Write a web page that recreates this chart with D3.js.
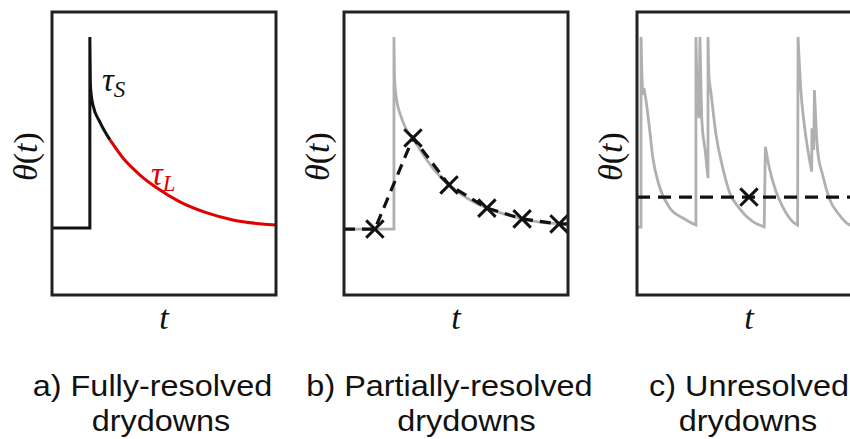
<!DOCTYPE html>
<html>
<head>
<meta charset="utf-8">
<script src="https://cdn.jsdelivr.net/npm/d3@7"></script>
<style>
  body { margin: 0; background: #fff; }
  svg { display: block; }
  .cap { font-family: 'Liberation Sans', Arial, sans-serif; font-size: 30px; fill: #111; }
  .math { font-family: 'Liberation Serif', 'DejaVu Serif', serif; fill: #111; }
</style>
</head>
<body>
<div id="chart"></div>
<script>
// a) fully-resolved drydown (t and theta in 0..100 panel units)
const aStepT = [0, 16.9];
const aStepTheta = [23.7, 23.7];
const aDecayT = [16.9, 17.2, 18.3, 21.4, 25.9, 31.7, 39.3, 46.9, 57.1, 69.2, 80.8, 100];
const aDecayTheta = [91.2, 73.5, 67.1, 61.1, 54.8, 48.4, 42.4, 37.8, 32.9, 29.0, 26.5, 24.7];
const aShortEnd = 4; // last point of the tau_S part

// b) partially-resolved
const bStepT = [0, 22.3];
const bStepTheta = [23.3, 23.3];
const bDecayT = [22.3, 22.6, 23.5, 25.3, 27.8, 30.8, 35, 40, 46.9, 55, 63.8, 72, 79.5, 88, 96, 100];
const bDecayTheta = [91.2, 76, 69, 63.5, 58.5, 55.3, 50, 44.5, 38.9, 34.2, 30.7, 28.5, 26.9, 25.7, 25.1, 24.8];
const bSampleT = [13.8, 30.8, 46.9, 63.8, 79.5, 96.0];
const bSampleTheta = [23.3, 55.5, 38.9, 30.7, 26.9, 25.1];

// c) unresolved, one array per rain event
const cEventT = [
  [0, 1.8],
  [1.8, 2.2, 2.7],
  [3.1, 4.0, 5.4, 7.1, 9.8, 14.3, 20.5, 26.3],
  [26.3, 26.8, 27.7],
  [28.1, 28.6, 29.0, 30.4, 31.7],
  [31.7, 32.1, 33.0, 35.3, 38.3, 41.2, 45.7, 51.7, 56.8],
  [57.3, 59.1, 62.1, 65.0, 69.5, 71.7],
  [71.9, 73.2, 74.7, 76.9, 78.0],
  [78.1, 78.9],
  [79.2, 79.9, 80.7, 82.9, 85.8, 90.3, 95.1, 100]
];
const cEventTheta = [
  [24.0, 24.0],
  [91.2, 77.7, 70.7],
  [73.1, 68.9, 60.1, 48.4, 38.9, 31.1, 27.2, 24.7],
  [91.2, 74.2, 62.5],
  [91.2, 72.4, 61.1, 51.2, 41.3],
  [91.2, 77.7, 71.7, 56.5, 44.9, 36.5, 30.6, 25.9, 24.1],
  [52.4, 44.8, 36.5, 31.2, 25.9, 24.7],
  [91.2, 71.8, 60.1, 48.3, 43.6],
  [58.9, 51.2],
  [72.4, 60.1, 50.6, 42.4, 34.2, 28.3, 24.7, 24.0]
];
const cMeanT = [50];
const cMeanTheta = [34.6];

const captions = [
  ["a) Fully-resolved", "drydowns"],
  ["b) Partially-resolved", "drydowns"],
  ["c) Unresolved", "drydowns"]
];

let panelLeft = [52, 344, 637],
    panelW = 224, plotTop = 12, plotBottom = 295;

let svg = d3.select('#chart').append('svg')
    .attr('width', 850)
    .attr('height', 439);

let line = d3.line()
    .x(d => d[0]).y(d => d[1])
    .curve(d3.curveMonotoneX);

// joins smooth pieces with straight jumps in between
let seriesPath = (x, y, ts, ths) => ts.map((t, i) => {
    let p = line(d3.zip(t, ths[i]).map(d => [x(d[0]), y(d[1])]));
    return i ? 'L' + p.slice(1) : p;
}).join('');

let panels = panelLeft.map(x0 => {
    let x = d3.scaleLinear().domain([0, 100]).range([x0, x0 + panelW]);
    let y = d3.scaleLinear().domain([0, 100]).range([plotBottom, plotTop]);
    return {x0, x, y, g: svg.append('g')};
});

// panel a
let pa = panels[0];
pa.g.append('path')
    .attr('d', seriesPath(pa.x, pa.y,
        [aStepT, aDecayT.slice(0, aShortEnd + 1)],
        [aStepTheta, aDecayTheta.slice(0, aShortEnd + 1)]))
    .attr('fill', 'none').attr('stroke', '#111').attr('stroke-width', 3);
pa.g.append('path')
    .attr('d', seriesPath(pa.x, pa.y, [aDecayT.slice(aShortEnd)], [aDecayTheta.slice(aShortEnd)]))
    .attr('fill', 'none').attr('stroke', '#e00000').attr('stroke-width', 3);

let tauLabel = (t, sub) => {
    t.append('tspan').style('font-style', 'italic').text('τ');
    t.append('tspan').style('font-style', 'italic').style('font-size', '23px').attr('dy', 6).text(sub);
};
pa.g.append('text').attr('class', 'math')
    .attr('x', 102).attr('y', 91)
    .style('font-size', '33px')
    .call(tauLabel, 'S');
pa.g.append('text').attr('class', 'math')
    .attr('x', 151).attr('y', 185)
    .style('fill', '#e00000')
    .style('font-size', '33px')
    .call(tauLabel, 'L');

// panel b
let pb = panels[1];
pb.g.append('path')
    .attr('d', seriesPath(pb.x, pb.y, [bStepT, bDecayT], [bStepTheta, bDecayTheta]))
    .attr('fill', 'none').attr('stroke', '#b0b0b0').attr('stroke-width', 2.8);

let bLine = [[0, bSampleTheta[0]]]
    .concat(d3.zip(bSampleT, bSampleTheta))
    .concat([[100, bSampleTheta[bSampleTheta.length - 1]]]);
pb.g.append('path')
    .attr('d', d3.line().x(d => pb.x(d[0])).y(d => pb.y(d[1]))(bLine))
    .attr('fill', 'none').attr('stroke', '#111').attr('stroke-width', 3.2)
    .attr('stroke-dasharray', '11,7');

let cross = d3.symbol().type(d3.symbolX).size(200);
pb.g.selectAll('.pt')
    .data(d3.zip(bSampleT, bSampleTheta))
    .enter().append('path')
    .attr('class', 'pt')
    .attr('d', cross)
    .attr('transform', d => 'translate(' + pb.x(d[0]) + ',' + pb.y(d[1]) + ')')
    .attr('fill', 'none').attr('stroke', '#111').attr('stroke-width', 3);

// panel c
let pc = panels[2];
pc.g.append('path')
    .attr('d', seriesPath(pc.x, pc.y, cEventT, cEventTheta))
    .attr('fill', 'none').attr('stroke', '#b0b0b0').attr('stroke-width', 2.8);

pc.g.append('line')
    .attr('x1', pc.x(0)).attr('x2', pc.x(100))
    .attr('y1', pc.y(cMeanTheta[0])).attr('y2', pc.y(cMeanTheta[0]))
    .attr('stroke', '#111').attr('stroke-width', 3.2)
    .attr('stroke-dasharray', '13,8');

pc.g.selectAll('.pt')
    .data(d3.zip(cMeanT, cMeanTheta))
    .enter().append('path')
    .attr('class', 'pt')
    .attr('d', cross)
    .attr('transform', d => 'translate(' + pc.x(d[0]) + ',' + pc.y(d[1]) + ')')
    .attr('fill', 'none').attr('stroke', '#111').attr('stroke-width', 3);

// frames, axis labels, captions
panels.forEach((p, i) => {
    p.g.append('rect')
        .attr('x', p.x(0)).attr('y', p.y(100))
        .attr('width', p.x(100) - p.x(0)).attr('height', p.y(0) - p.y(100))
        .attr('fill', 'none').attr('stroke', '#222').attr('stroke-width', 3);

    p.g.append('text').attr('class', 'math')
        .attr('transform', 'translate(' + (p.x0 - 15) + ',' + ((plotTop + plotBottom) / 2 + 3) + ') rotate(-90)')
        .attr('text-anchor', 'middle')
        .style('font-size', '34px')
        .call(t => {
            t.append('tspan').style('font-style', 'italic').text('θ');
            t.append('tspan').text('(');
            t.append('tspan').style('font-style', 'italic').text('t');
            t.append('tspan').text(')');
        });

    p.g.append('text').attr('class', 'math')
        .attr('x', p.x(50)).attr('y', 329)
        .attr('text-anchor', 'middle')
        .style('font-size', '34px').style('font-style', 'italic')
        .text('t');
});

let capX = [[152.5, 161], [449.5, 466.5], [749, 748]];
captions.forEach((c, i) => {
    c.forEach((s, j) => {
        svg.append('text').attr('class', 'cap')
            .attr('text-anchor', 'middle')
            .attr('transform', 'translate(' + capX[i][j] + ',' + (396 + j * 35) + ') scale(1.08,1)')
            .text(s);
    });
});
</script>
</body>
</html>
